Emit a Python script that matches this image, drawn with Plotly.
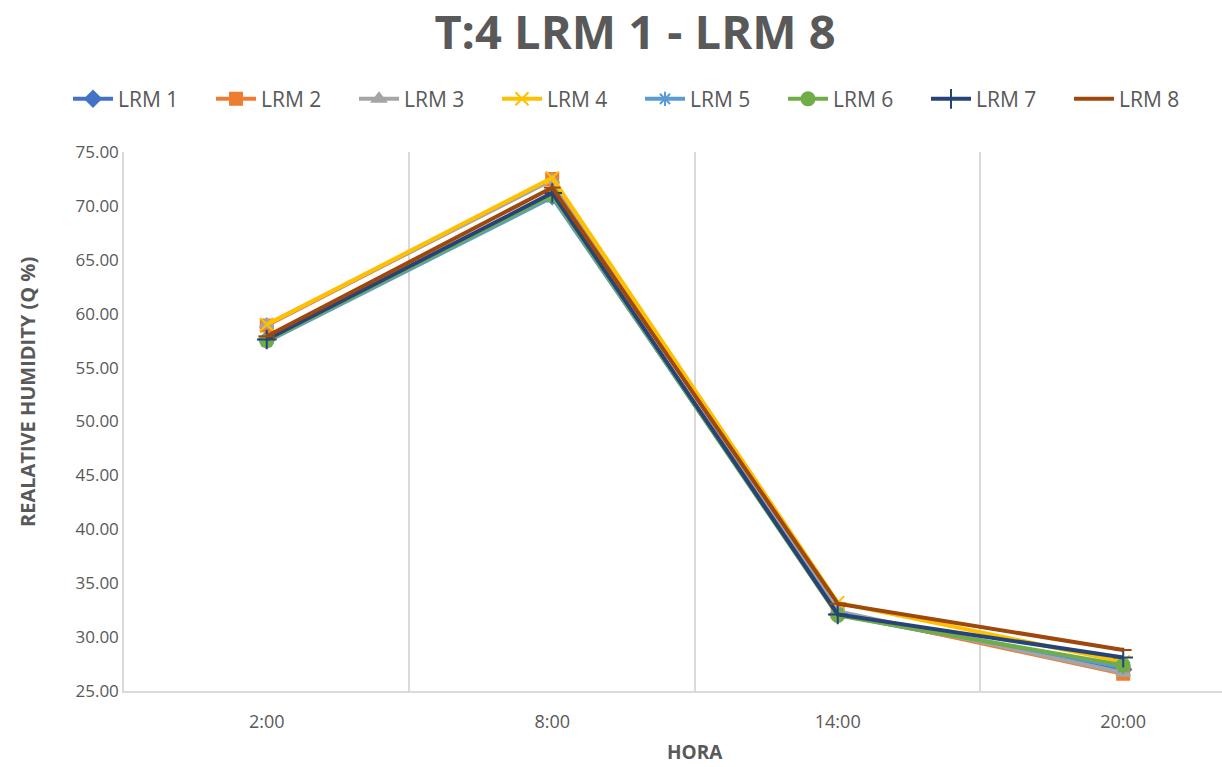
import plotly.graph_objects as go

# Hours of the day (category axis)
hours = ["2:00", "8:00", "14:00", "20:00"]

# Relative humidity (%) per logger
lrm1 = [57.6, 70.9, 32.1, 27.0]
lrm2 = [58.9, 72.5, 32.3, 26.6]
lrm3 = [59.0, 72.4, 32.4, 26.7]
lrm4 = [59.0, 72.6, 33.2, 27.7]
lrm5 = [57.4, 70.8, 32.2, 27.2]
lrm6 = [57.5, 71.0, 32.0, 27.4]
lrm7 = [57.6, 71.2, 32.1, 28.1]
lrm8 = [57.9, 71.7, 33.1, 28.8]

names = ["LRM 1", "LRM 2", "LRM 3", "LRM 4", "LRM 5", "LRM 6", "LRM 7", "LRM 8"]
series = [lrm1, lrm2, lrm3, lrm4, lrm5, lrm6, lrm7, lrm8]
colors = ["#4472C4", "#ED7D31", "#A5A5A5", "#FFC000",
          "#5B9BD5", "#70AD47", "#264478", "#9E480E"]
symbols = ["diamond", "square", "triangle-up", "x-thin-open",
           "asterisk-open", "circle", "cross-thin-open", "line-ew-open"]
sizes = [12, 12, 12, 13, 12, 13, 14, 12]

fig = go.Figure()
for name, vals, col, sym, sz in zip(names, series, colors, symbols, sizes):
    fig.add_trace(go.Scatter(
        x=hours, y=vals, name=name, mode="lines+markers",
        line=dict(color=col, width=4),
        marker=dict(symbol=sym, size=sz, color=col,
                    line=dict(color=col, width=2)),
    ))

font_family = "Open Sans, Liberation Sans, sans-serif"
grey = "#595959"
W, H = 1222, 767
plot_left = 124          # px where the value axis sits
plot_top, plot_bottom = 152, 691
plot_h = plot_bottom - plot_top

fig.update_layout(
    width=W, height=H,
    margin=dict(l=0, r=0, t=plot_top, b=H - plot_bottom),
    paper_bgcolor="white", plot_bgcolor="white",
    font=dict(family=font_family, color=grey, size=17),
    title=dict(text="<b>T:4 LRM 1 - LRM 8</b>", x=635 / W, xanchor="center",
               y=0.958, yanchor="middle",
               font=dict(size=47, color=grey, family=font_family)),
    legend=dict(orientation="h", x=640 / W, xanchor="center", y=1.098, yanchor="middle",
                font=dict(size=21, color=grey), entrywidth=88,
                itemwidth=40, traceorder="normal"),
    showlegend=True,
)

fig.update_xaxes(
    type="category", range=[-0.5, 3.346], tickson="boundaries",
    domain=[plot_left / W, 1],
    showgrid=True, gridcolor="#D9D9D9", gridwidth=1.5,
    showline=True, linecolor="#D9D9D9", linewidth=1.5,
    ticks="", ticklabelstandoff=14,
    tickfont=dict(size=18, color=grey),
)
fig.update_yaxes(
    range=[25, 75], dtick=5, tick0=25, tickformat=".2f",
    showgrid=False, zeroline=False,
    showline=True, linecolor="#D9D9D9", linewidth=1.5,
    tickfont=dict(size=17, color=grey),
)

# Axis titles
fig.add_annotation(
    text="<b>HORA</b>", xref="paper", yref="paper",
    x=695 / W, y=-(752 - plot_bottom) / plot_h, xanchor="center", yanchor="middle",
    showarrow=False, font=dict(size=19, color=grey),
)
fig.add_annotation(
    text="<b>REALATIVE HUMIDITY (Q %)</b>", xref="paper", yref="paper",
    x=27 / W, y=(plot_bottom - 392) / plot_h, xanchor="center", yanchor="middle",
    textangle=-90, showarrow=False, font=dict(size=20, color=grey),
)

fig.write_html("out.html")
